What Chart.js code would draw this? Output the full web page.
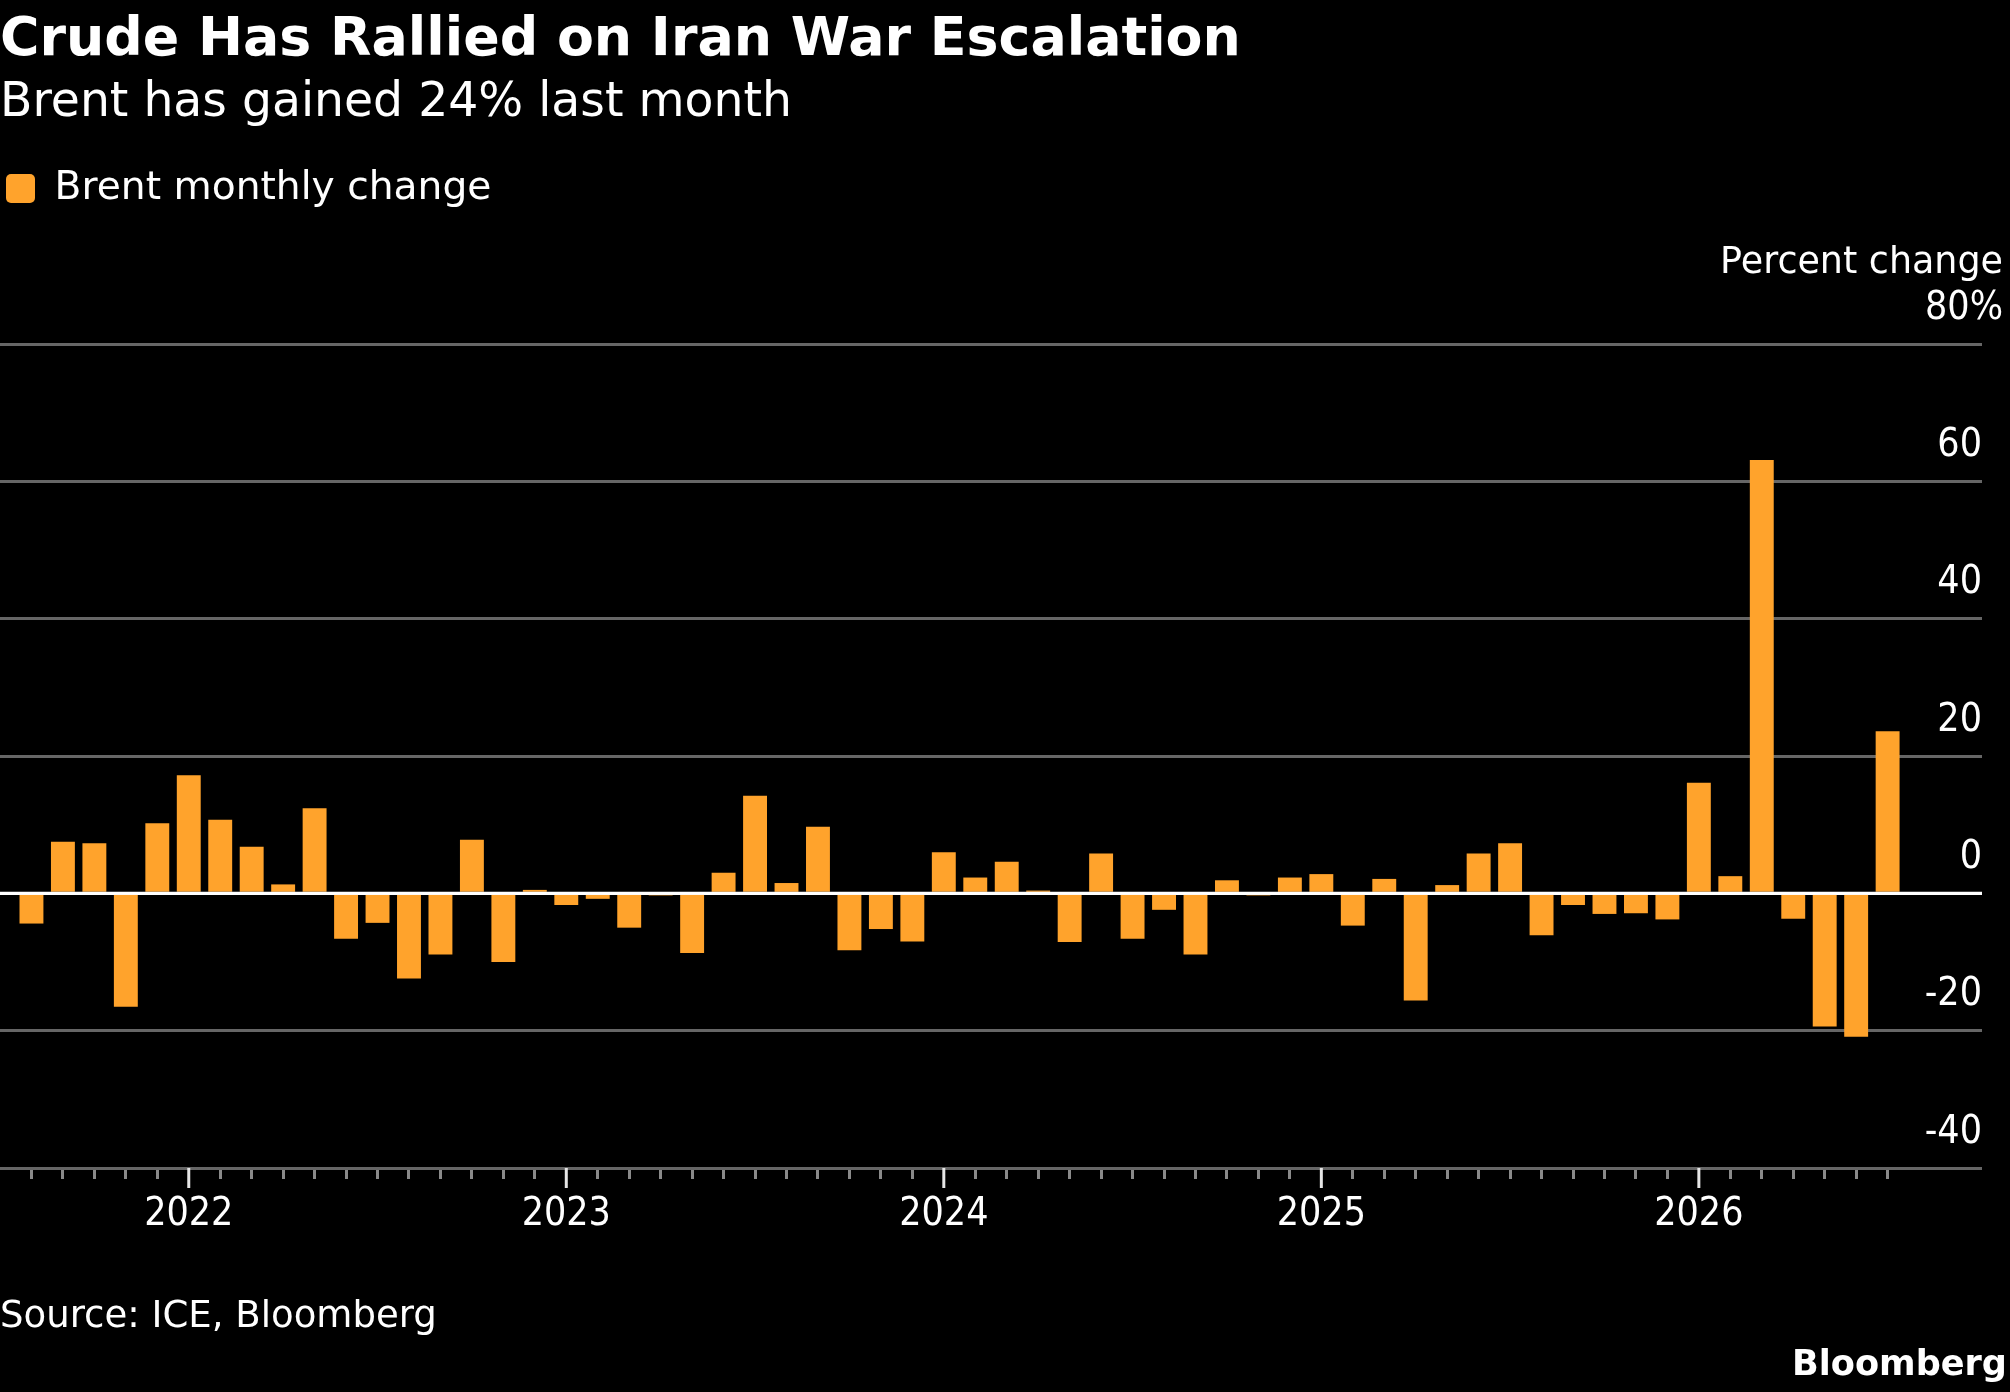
<!DOCTYPE html>
<html>
<head>
<meta charset="utf-8">
<script src="https://cdn.jsdelivr.net/npm/chart.js@4.4.1/dist/chart.umd.min.js"></script>
<style>
  html, body { margin: 0; padding: 0; background: #000; width: 2010px; height: 1392px; overflow: hidden; }
  #c { position: absolute; left: 0; top: 0; }
  .t { position: absolute; white-space: nowrap; color: #fff; line-height: 1; margin: 0;
       font-family: "DejaVu Sans", sans-serif; }
</style>
</head>
<body>
<canvas id="c" width="2010" height="1392"></canvas>
<div id="title" class="t" style="font-weight:bold">Crude Has Rallied on Iran War Escalation</div>
<div id="subtitle" class="t">Brent has gained 24% last month</div>
<div id="source" class="t">Source: ICE, Bloomberg</div>
<div id="logo" class="t" style="font-weight:bold">Bloomberg</div>
<script>
// ---------------- DATA ----------------
const months = [
  '2021-08','2021-09','2021-10','2021-11','2021-12',
  '2022-01','2022-02','2022-03','2022-04','2022-05','2022-06','2022-07','2022-08','2022-09','2022-10','2022-11','2022-12',
  '2023-01','2023-02','2023-03','2023-04','2023-05','2023-06','2023-07','2023-08','2023-09','2023-10','2023-11','2023-12',
  '2024-01','2024-02','2024-03','2024-04','2024-05','2024-06','2024-07','2024-08','2024-09','2024-10','2024-11','2024-12',
  '2025-01','2025-02','2025-03','2025-04','2025-05','2025-06','2025-07','2025-08','2025-09','2025-10','2025-11','2025-12',
  '2026-01','2026-02','2026-03','2026-04','2026-05','2026-06','2026-07'
];
const brentChange = [
  -4.4, 7.5, 7.3, -16.5, 10.2,
  17.2, 10.7, 6.8, 1.3, 12.4, -6.6, -4.3, -12.4, -8.9, 7.8, -10.0, 0.5,
  -1.7, -0.8, -5.0, -0.3, -8.7, 3.0, 14.2, 1.5, 9.7, -8.3, -5.2, -7.0,
  6.0, 2.3, 4.6, 0.4, -7.1, 5.8, -6.6, -2.4, -8.9, 1.9, -0.3, 2.3,
  2.8, -4.7, 2.1, -15.6, 1.2, 5.8, 7.3, -6.1, -1.7, -3.0, -2.9, -3.8,
  16.1, 2.5, 63.1, -3.7, -19.4, -20.9, 23.6
];
const yTickValues = [-40, -20, 0, 20, 40, 60, 80];
const seriesLabel = 'Brent monthly change';
const unitLabel = 'Percent change';

// ---------------- STYLE / LAYOUT ----------------
const W = 2010, H = 1392;
const TXT = '"DejaVu Sans", sans-serif';
const NUM = '"DejaVu Sans Condensed", "DejaVu Sans", sans-serif';
const ORANGE = '#ffa32c';
const GRID = '#666666';

const mctx = document.createElement('canvas').getContext('2d');
function fitSize(text, family, weight, target) {
  mctx.font = `${weight} 100px ${family}`;
  return 100 * target / mctx.measureText(text).width;
}
function fontMetrics(family, weight, size) {
  mctx.font = `${weight} ${size}px ${family}`;
  const m = mctx.measureText('H');
  return { a: m.fontBoundingBoxAscent, d: m.fontBoundingBoxDescent };
}
function place(id, weight, width, baseline, x, alignRight) {
  const el = document.getElementById(id);
  const size = fitSize(el.textContent, TXT, weight, width);
  el.style.fontSize = size + 'px';
  const { a, d } = fontMetrics(TXT, weight, size);
  el.style.top = (baseline - ((size - (a + d)) / 2 + a)) + 'px';
  if (alignRight) el.style.right = (W - x) + 'px'; else el.style.left = x + 'px';
}
place('title', 'bold', 1241, 55, 0, false);
place('subtitle', 'normal', 792, 116, 0, false);
place('source', 'normal', 437, 1327, 0, false);
place('logo', 'bold', 215, 1375, 2007, true);

const legendSize = fitSize(seriesLabel, TXT, 'normal', 437);
const pcSize = fitSize(unitLabel, TXT, 'normal', 283);
const numSize = 39;

const chartTop = 344, chartBottom = 1168, chartRight = 1982, rightPad = 7;
const legendPad = 6, boxH = 29;
const legendTop = 174 - legendPad - Math.max((legendSize - boxH) / 2, 0);
const legendHeight = Math.max(legendSize, boxH) + legendPad + 10;
const pcLine = pcSize * 1.2;
const pcTop = legendTop + legendHeight;
const pcPadTop = 264 - pcTop - pcLine / 2;
const pcPadBottom = chartTop - pcTop - pcLine - pcPadTop;
const xTickLen = 11;
const numLine = numSize * 1.2;
const xPad = 1215 - chartBottom - xTickLen - numLine / 2;
const bottomPad = H - (chartBottom + xTickLen + 2 * xPad + numLine);
const yLabelOffset = -35.5;

// padded category axis so the gridlines run the full width
const xLabels = ['pad-start', ...months, 'pad-1', 'pad-2', 'pad-3'];
const xData = [null, ...brentChange, null, null, null];
const isMonth = i => i >= 1 && i <= months.length;
const isJan = i => isMonth(i) && months[i - 1].endsWith('-01');

const overlay = {
  id: 'overlay',
  afterDraw(chart) {
    const { ctx, chartArea, scales: { x, y } } = chart;
    ctx.save();
    // zero line on top of bars
    const y0 = y.getPixelForValue(0);
    ctx.strokeStyle = '#ffffff';
    ctx.lineWidth = 3;
    ctx.beginPath();
    ctx.moveTo(chartArea.left, y0);
    ctx.lineTo(chartArea.right, y0);
    ctx.stroke();
    // year ticks
    ctx.strokeStyle = '#e6e6e6';
    ctx.lineWidth = 3;
    xLabels.forEach((_, i) => {
      if (!isJan(i)) return;
      const px = x.getPixelForValue(i);
      ctx.beginPath();
      ctx.moveTo(px, chartArea.bottom);
      ctx.lineTo(px, chartArea.bottom + 20);
      ctx.stroke();
    });
    // top tick label with unit
    const top = yTickValues[yTickValues.length - 1];
    ctx.fillStyle = '#ffffff';
    ctx.font = `normal ${numSize}px ${NUM}`;
    ctx.textAlign = 'right';
    ctx.textBaseline = 'middle';
    ctx.fillText(top + '%', W - rightPad, y.getPixelForValue(top) + yLabelOffset);
    ctx.restore();
  }
};

Chart.defaults.font.family = TXT;
Chart.defaults.color = '#ffffff';

new Chart(document.getElementById('c'), {
  type: 'bar',
  data: {
    labels: xLabels,
    datasets: [{
      label: seriesLabel,
      data: xData,
      backgroundColor: ORANGE,
      borderWidth: 0,
      barPercentage: 0.76,
      categoryPercentage: 1.0
    }]
  },
  options: {
    responsive: false,
    animation: false,
    devicePixelRatio: 1,
    layout: { autoPadding: false, padding: { top: legendTop, left: 0, right: rightPad, bottom: bottomPad } },
    plugins: {
      legend: {
        display: true,
        position: 'top',
        align: 'start',
        labels: {
          boxWidth: 29, boxHeight: boxH, padding: legendPad,
          useBorderRadius: true, borderRadius: 5,
          color: '#ffffff',
          font: { family: TXT, size: legendSize, weight: 'normal' }
        }
      },
      subtitle: {
        display: true,
        text: unitLabel,
        align: 'end',
        position: 'top',
        weight: 500,
        color: '#ffffff',
        font: { family: TXT, size: pcSize, weight: 'normal', lineHeight: 1.2 },
        padding: { top: pcPadTop, bottom: pcPadBottom }
      },
      title: { display: false },
      tooltip: { enabled: false }
    },
    scales: {
      x: {
        type: 'category',
        offset: false,
        border: { display: false },
        afterFit: s => { s.paddingLeft = 0; s.paddingRight = 0; },
        grid: {
          offset: false,
          drawOnChartArea: false,
          drawTicks: true,
          tickLength: xTickLen,
          tickWidth: 3,
          tickColor: ctx => (isMonth(ctx.index) && !isJan(ctx.index)) ? '#8a8a8a' : 'rgba(0,0,0,0)'
        },
        ticks: {
          autoSkip: false,
          maxRotation: 0,
          minRotation: 0,
          padding: xPad,
          color: '#ffffff',
          font: { family: NUM, size: numSize, weight: 'normal', lineHeight: 1.2 },
          callback: (v, i) => isJan(i) ? months[i - 1].slice(0, 4) : ''
        }
      },
      y: {
        type: 'linear',
        position: 'right',
        min: yTickValues[0],
        max: yTickValues[yTickValues.length - 1],
        afterBuildTicks: s => { s.ticks = yTickValues.map(v => ({ value: v })); },
        afterFit: s => { s.width = W - rightPad - chartRight; s.paddingTop = 0; s.paddingBottom = 0; },
        border: { display: false },
        grid: {
          drawTicks: false,
          lineWidth: 3,
          color: ctx => ctx.tick && ctx.tick.value === 0 ? '#ffffff' : GRID
        },
        ticks: {
          mirror: true,
          padding: 0,
          labelOffset: yLabelOffset,
          color: '#ffffff',
          font: { family: NUM, size: numSize, weight: 'normal', lineHeight: 1.2 },
          callback: v => v === yTickValues[yTickValues.length - 1] ? '' : String(v)
        }
      }
    }
  },
  plugins: [overlay]
});
</script>
</body>
</html>
